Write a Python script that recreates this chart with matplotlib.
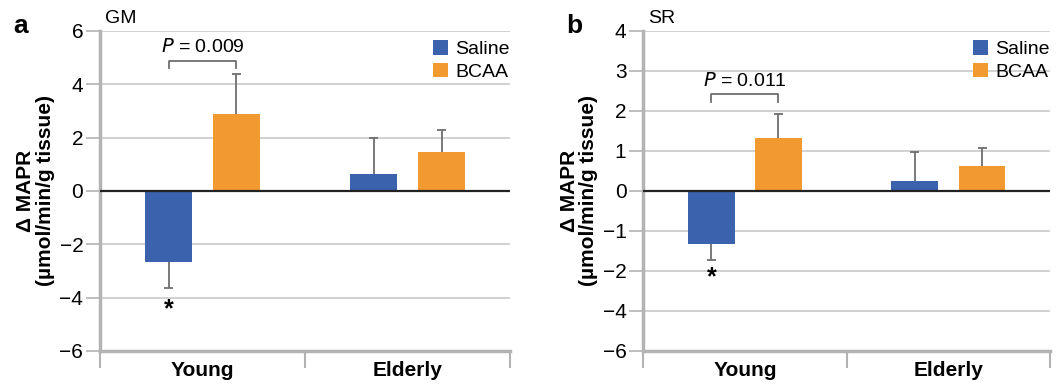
import matplotlib.pyplot as plt
import numpy as np

plt.rcParams['font.family'] = ['Liberation Sans', 'DejaVu Sans']

groups = ['Young', 'Elderly']
series = ['Saline', 'BCAA']
colors = ['#3a62ad', '#f29a30']

# panel a (GM)
gm_saline = [-2.66, 0.62]
gm_saline_err = [0.97, 1.35]
gm_bcaa = [2.88, 1.46]
gm_bcaa_err = [1.5, 0.84]
gm_ticks = [6, 4, 2, 0, -2, -4, -6]
gm_ticklabels = ['6', '4', '2', '0', '\u22122', '\u22124', '\u22126']

# panel b (SR) - axis labelled as in the original figure
sr_saline = [-1.32, 0.24]
sr_saline_err = [0.41, 0.74]
sr_bcaa = [1.33, 0.63]
sr_bcaa_err = [0.6, 0.44]
sr_ticks = [4, 3, 2, 1, 0, -1, -2, -3, -4]
sr_ticklabels = ['4', '3', '2', '1', '0', '\u22121', '\u22122', '\u22124', '\u22126']

grid_col = '#c9c9c9'
axis_col = '#b3b3b3'
err_col = '#6e6e6e'


def panel(ax, saline, saline_err, bcaa, bcaa_err, ticks, ticklabels,
          ylim, ptext, pbr, star_y, tissue):
    x = np.arange(len(groups))
    off = 0.165
    w = 0.23
    cap = 0.022
    vals = [saline, bcaa]
    errs = [saline_err, bcaa_err]
    for i in range(2):
        v = np.array(vals[i])
        e = np.array(errs[i])
        xs = x + (i * 2 - 1) * off
        ax.bar(xs, v, w, color=colors[i], label=series[i], zorder=3)
        # one-sided error bars, away from zero
        tip = v + np.sign(v) * e
        ax.vlines(xs, v, tip, color=err_col, lw=1.3, zorder=2)
        ax.hlines(tip, xs - cap, xs + cap, color=err_col, lw=1.3, zorder=2)
    ax.set_xlim(-0.5, 1.5)
    ax.set_ylim(*ylim)
    ax.set_yticks(ticks)
    ax.set_yticklabels(ticklabels, fontsize=15)
    ax.yaxis.grid(True, color=grid_col, lw=1.2, zorder=0)
    ax.set_axisbelow(True)
    ax.axhline(0, color='#222222', lw=1.6, zorder=4)
    for s in ['top', 'right']:
        ax.spines[s].set_visible(False)
    ax.spines['left'].set_color(axis_col)
    ax.spines['left'].set_linewidth(2.5)
    ax.spines['bottom'].set_color(axis_col)
    ax.spines['bottom'].set_linewidth(2.5)
    ax.tick_params(axis='y', color=axis_col, length=10, width=1.2, pad=2)
    ax.set_xticks([-0.5, 0.5, 1.5], minor=True)
    ax.set_xticks(x)
    ax.set_xticklabels(groups, fontsize=15, fontweight='bold')
    ax.tick_params(axis='x', which='major', length=0, pad=7)
    ax.tick_params(axis='x', which='minor', color=axis_col, length=12, width=1.5)
    ax.set_ylabel('\u0394 MAPR\n(\u00b5mol/min/g tissue)', fontsize=15,
                  fontweight='bold', labelpad=3, linespacing=1.05)
    # bracket
    x0, x1 = -off, off
    ytop, yleg = pbr
    ax.plot([x0, x0, x1, x1], [yleg, ytop, ytop, yleg], color=err_col, lw=1.3,
            zorder=5, clip_on=False)
    ax.text(0, ytop + (ylim[1] - ylim[0]) * 0.015, ptext, ha='center', va='bottom', fontsize=14)
    ax.text(-off, star_y, '*', ha='center', va='center', fontsize=18, fontweight='bold')
    ax.legend(loc='upper right', frameon=False, fontsize=14, handlelength=0.75,
              handleheight=0.75, handletextpad=0.4, labelspacing=0.25,
              borderaxespad=0.0, bbox_to_anchor=(1.018, 0.995))
    ax.text(0.012, 1.012, tissue, transform=ax.transAxes, fontsize=14, va='bottom')
    return ax


fig = plt.figure(figsize=(10.63, 3.86), dpi=100)
ax1 = fig.add_axes([0.094, 0.091, 0.386, 0.829])
ax2 = fig.add_axes([0.605, 0.091, 0.383, 0.829])

panel(ax1, gm_saline, gm_saline_err, gm_bcaa, gm_bcaa_err, gm_ticks, gm_ticklabels,
      (-6, 6), '$P$ = 0.009', (4.86, 4.59), -4.45, 'GM')
panel(ax2, sr_saline, sr_saline_err, sr_bcaa, sr_bcaa_err, sr_ticks, sr_ticklabels,
      (-4, 4), '$P$ = 0.011', (2.41, 2.22), -2.17, 'SR')

fig.text(0.012, 0.915, 'a', fontsize=19, fontweight='bold')
fig.text(0.533, 0.915, 'b', fontsize=19, fontweight='bold')

fig.savefig('out.png', dpi=100)
